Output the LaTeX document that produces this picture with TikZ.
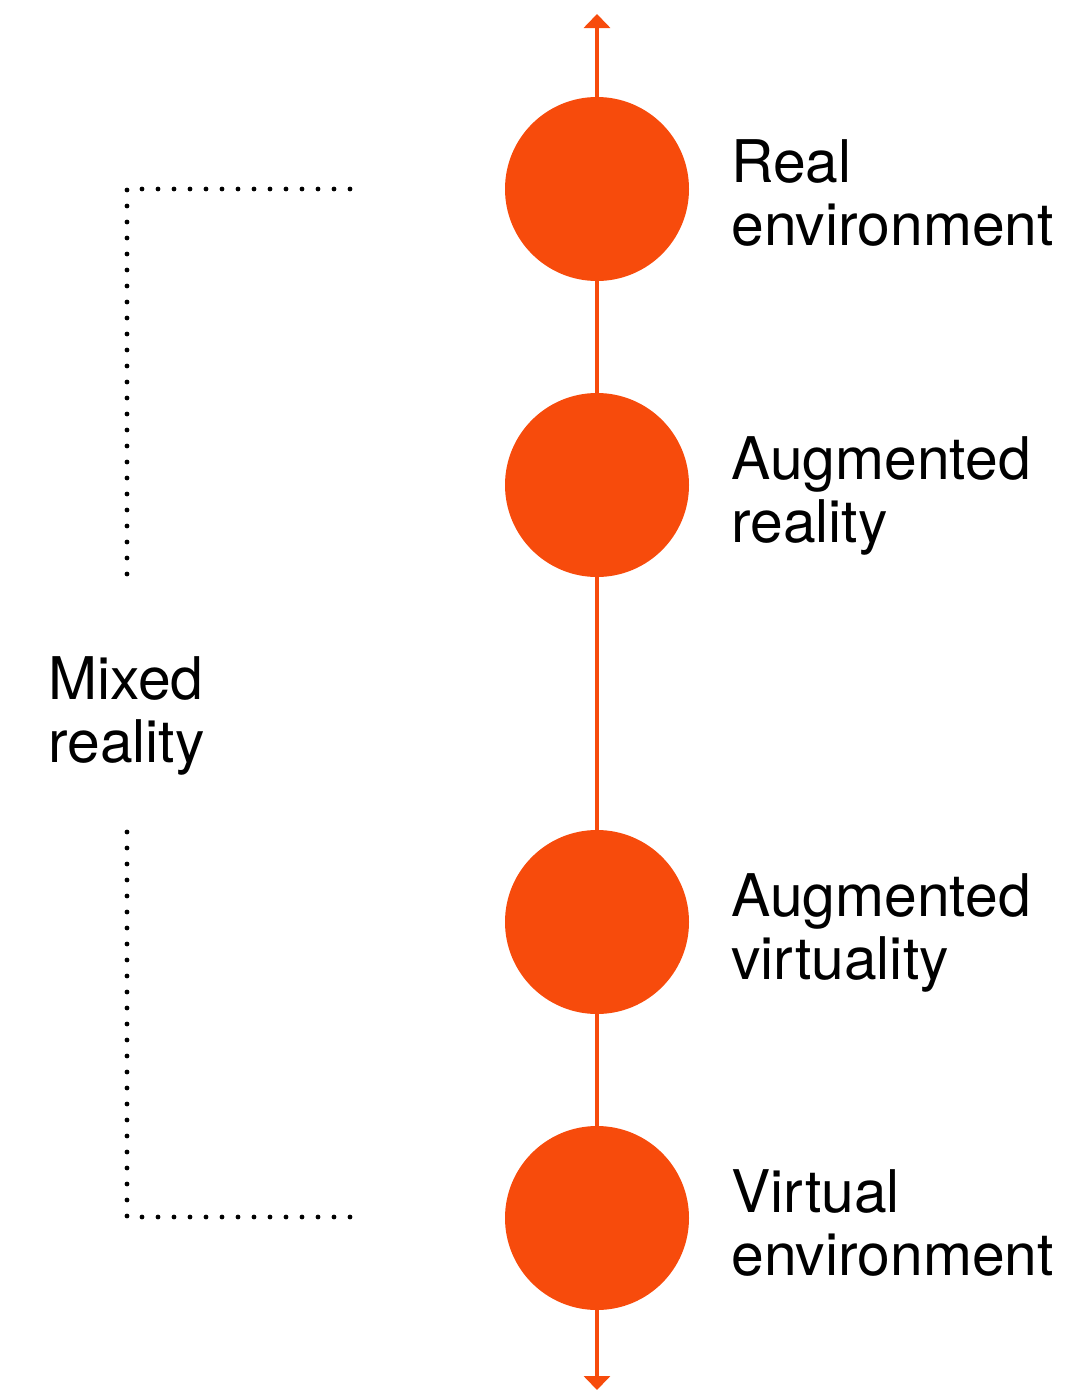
\documentclass[tikz,border=0pt]{standalone}
\usepackage{fontspec}
\setmainfont{TeX Gyre Heros}
\usetikzlibrary{positioning,arrows.meta}
\definecolor{portocaliu}{RGB}{247,75,12}
\tikzset{
  cerc/.style     = {circle, fill=portocaliu, minimum size=92pt, inner sep=0pt},
  eticheta/.style = {anchor=base west, align=left, inner sep=0pt,
                     font=\fontsize{29.4}{31.5}\selectfont},
  axa/.style      = {{Triangle[length=7pt,width=13pt]}-{Triangle[length=7pt,width=13pt]},
                     draw=portocaliu, fill=portocaliu, line width=2pt},
  punctat/.style  = {line width=2.4pt, line cap=round, dash pattern=on 0pt off 8pt}
}
\begin{document}
\begin{tikzpicture}[x=0.5pt, y=-0.5pt]
    \useasboundingbox (0,0) rectangle (1076,1392);
    % axa verticala
    \coordinate (sus) at (597,14);
    \coordinate (jos) at (597,1390);
    \draw[axa] (sus) -- (jos);

    \node[cerc] (real) at (597,189) {};
    \node[cerc] (ar) at (597,485) {};
    \node[cerc] (av) at (597,922) {};
    \node[cerc] (virt) at (597,1218) {};

    % baza = linia de jos a textului
    \node[eticheta] (treal) at (731,245) {Real\\environment};
    \node[eticheta] (tar) at (731,542) {Augmented\\reality};
    \node[eticheta] (tav) at (731,979) {Augmented\\virtuality};
    \node[eticheta] (tvirt) at (731,1275) {Virtual\\environment};

    % acolada punctata
    \coordinate (a1) at (350,189);
    \coordinate (a2) at (127,189);
    \coordinate (a3) at (127,575);
    \coordinate (b1) at (127,832);
    \coordinate (b2) at (127,1217);
    \coordinate (b3) at (350,1217);
    \draw[punctat] (a1) -- (a2) -- (a3);
    \draw[punctat] (b1) -- (b2) -- (b3);
    \node[eticheta] (mixt) at (48,762) {Mixed\\reality};
\end{tikzpicture}
\end{document}
